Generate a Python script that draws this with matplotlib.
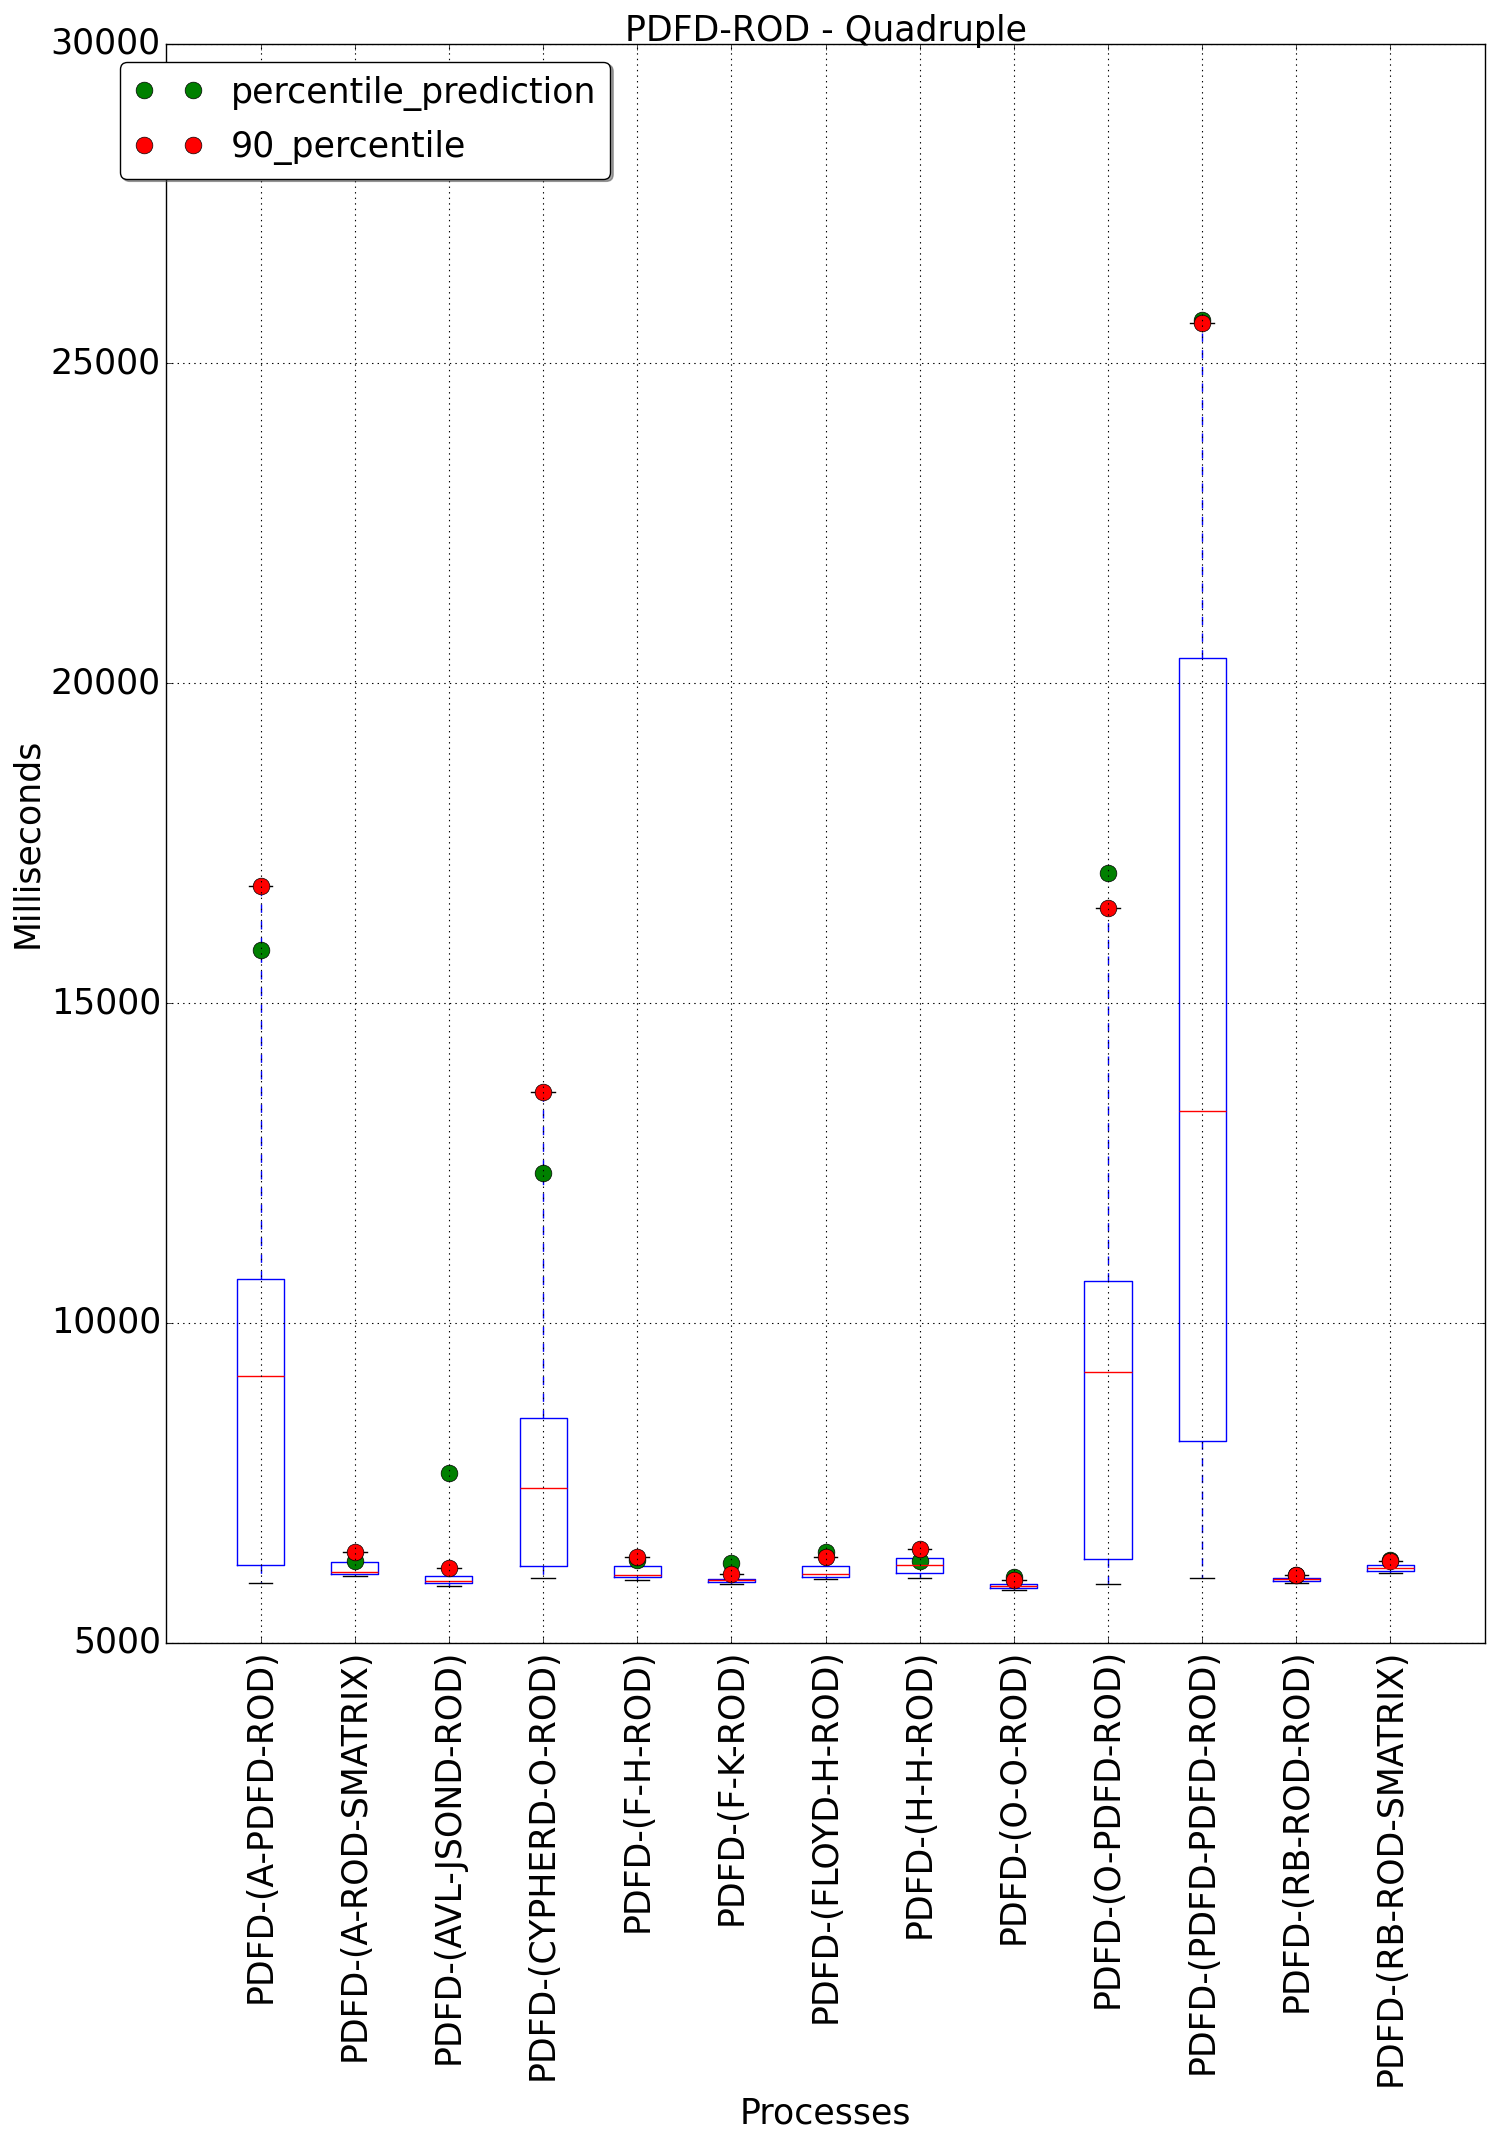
import matplotlib
matplotlib.use("Agg")
import matplotlib.pyplot as plt

plt.style.use('classic')
plt.rcParams['font.family'] = ['DejaVu Sans']

names = ['PDFD-(A-PDFD-ROD)', 'PDFD-(A-ROD-SMATRIX)', 'PDFD-(AVL-JSOND-ROD)',
         'PDFD-(CYPHERD-O-ROD)', 'PDFD-(F-H-ROD)', 'PDFD-(F-K-ROD)',
         'PDFD-(FLOYD-H-ROD)', 'PDFD-(H-H-ROD)', 'PDFD-(O-O-ROD)',
         'PDFD-(O-PDFD-ROD)', 'PDFD-(PDFD-PDFD-ROD)', 'PDFD-(RB-ROD-ROD)',
         'PDFD-(RB-ROD-SMATRIX)']

whislo = [5930, 6035, 5893, 6010, 5975, 5913, 5991, 6007, 5819, 5925, 6015, 5929, 6085]
q1 = [6212, 6067, 5928, 6196, 6022, 5944, 6022, 6085, 5851, 6310, 8157, 5960, 6116]
med = [9167, 6097, 5964, 7416, 6063, 5975, 6069, 6210, 5882, 9237, 13316, 5991, 6163]
q3 = [10690, 6262, 6039, 8513, 6194, 5996, 6194, 6319, 5918, 10658, 20396, 6012, 6215]
whishi = [16833, 6420, 6165, 13610, 6340, 6069, 6335, 6460, 5980, 16487, 25635, 6053, 6277]
p90 = [16833, 6420, 6165, 13610, 6340, 6069, 6335, 6465, 5980, 16487, 25635, 6053, 6277]
pred = [15835, 6275, 7658, 12340, 6293, 6241, 6418, 6282, 6032, 17041, 25687, 6060, 6285]

FS = 25

fig = plt.figure(figsize=(14.94, 21.40), dpi=100)
fig.patch.set_facecolor('white')
ax = fig.add_axes([0.1114, 0.2324, 0.8823, 0.7472])

stats = []
for i in range(len(names)):
    stats.append(dict(med=med[i], q1=q1[i], q3=q3[i], whislo=whislo[i],
                      whishi=whishi[i], fliers=[], label=names[i]))

positions = list(range(1, len(names) + 1))
ax.bxp(stats, positions=positions, widths=0.5, showfliers=False,
       boxprops=dict(color='blue', linewidth=1.0),
       medianprops=dict(color='red', linewidth=1.0),
       whiskerprops=dict(color='blue', linestyle='--', linewidth=1.0),
       capprops=dict(color='black', linewidth=1.0))

ax.plot(positions, pred, 'o', color='green', markeredgecolor='black',
        markeredgewidth=0.5, markersize=12, label='percentile_prediction')
ax.plot(positions, p90, 'o', color='red', markeredgecolor='black',
        markeredgewidth=0.5, markersize=12, label='90_percentile')

ax.set_xlim(0, 14)
ax.set_ylim(5000, 30000)
ax.set_xticks(positions)
ax.set_xticklabels(names, rotation=90, fontsize=FS)
ax.tick_params(axis='y', labelsize=FS)
ax.grid(True, color='black', linestyle=':', linewidth=0.8)
ax.set_title('PDFD-ROD - Quadruple', fontsize=FS, pad=2)
ax.set_xlabel('Processes', fontsize=FS, labelpad=8)
ax.set_ylabel('Milliseconds', fontsize=FS)

leg = ax.legend(loc='upper left', bbox_to_anchor=(-0.0353, 0.9887),
                numpoints=2, fancybox=True, shadow=True,
                fontsize=FS, borderaxespad=0, labelspacing=0.55)

fig.savefig('out.png', dpi=100, facecolor='white')
